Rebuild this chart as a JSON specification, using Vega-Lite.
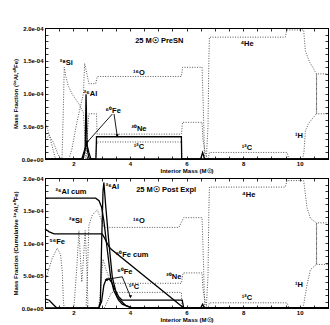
{
"$schema":"https://vega.github.io/schema/vega-lite/v6.json",
"background":"white",
"padding":{"left":11,"top":24,"right":2,"bottom":0},
"spacing":0,
"config":{
 "view":{"stroke":"black","strokeWidth":1},
 "axis":{"grid":false,"domainColor":"black","tickColor":"black","labelColor":"black","titleColor":"black","labelFont":"Liberation Sans","titleFont":"Liberation Sans","labelFontSize":6,"titleFontSize":6,"labelFontWeight":"bold","titleFontWeight":"bold","tickWidth":0.8,"domainWidth":1},
 "text":{"font":"Liberation Sans","fontWeight":"bold","fontSize":7.5,"color":"black"}
},
"datasets":{
"lines":[
{"p":"a","s":"Fe56","x":1.0,"y":0.30e-4},{"p":"a","s":"Fe56","x":1.15,"y":0.36e-4},{"p":"a","s":"Fe56","x":1.3,"y":0.25e-4},{"p":"a","s":"Fe56","x":1.45,"y":0.08e-4},{"p":"a","s":"Fe56","x":1.55,"y":0},
{"p":"a","s":"Si28","x":1.0,"y":0.55e-4},{"p":"a","s":"Si28","x":1.12,"y":0.42e-4},{"p":"a","s":"Si28","x":1.25,"y":0.2e-4},{"p":"a","s":"Si28","x":1.36,"y":0.02e-4},{"p":"a","s":"Si28","x":1.4,"y":0},{"p":"a","s":"Si28","x":1.6,"y":0},{"p":"a","s":"Si28","x":1.64,"y":0.6e-4},{"p":"a","s":"Si28","x":1.68,"y":1.40e-4},{"p":"a","s":"Si28","x":1.74,"y":1.25e-4},{"p":"a","s":"Si28","x":1.82,"y":1.12e-4},{"p":"a","s":"Si28","x":1.96,"y":0.99e-4},{"p":"a","s":"Si28","x":2.2,"y":0.84e-4},{"p":"a","s":"Si28","x":2.36,"y":0.7e-4},{"p":"a","s":"Si28","x":2.41,"y":0.3e-4},{"p":"a","s":"Si28","x":2.45,"y":0},
{"p":"a","s":"O16","x":1.85,"y":0},{"p":"a","s":"O16","x":1.95,"y":0.15e-4},{"p":"a","s":"O16","x":2.1,"y":0.5e-4},{"p":"a","s":"O16","x":2.25,"y":0.8e-4},{"p":"a","s":"O16","x":2.36,"y":1.0e-4},{"p":"a","s":"O16","x":2.4,"y":1.46e-4},{"p":"a","s":"O16","x":2.48,"y":1.3e-4},{"p":"a","s":"O16","x":2.55,"y":1.15e-4},{"p":"a","s":"O16","x":2.79,"y":1.15e-4},{"p":"a","s":"O16","x":2.85,"y":1.26e-4},{"p":"a","s":"O16","x":5.82,"y":1.26e-4},{"p":"a","s":"O16","x":5.86,"y":1.40e-4},{"p":"a","s":"O16","x":6.55,"y":1.40e-4},{"p":"a","s":"O16","x":6.6,"y":0.7e-4},{"p":"a","s":"O16","x":6.64,"y":0},
{"p":"a","s":"Ne20","x":2.45,"y":0},{"p":"a","s":"Ne20","x":2.5,"y":0.4e-4},{"p":"a","s":"Ne20","x":2.55,"y":0.69e-4},{"p":"a","s":"Ne20","x":2.82,"y":0.69e-4},{"p":"a","s":"Ne20","x":2.84,"y":0.38e-4},{"p":"a","s":"Ne20","x":5.82,"y":0.38e-4},{"p":"a","s":"Ne20","x":5.86,"y":0.56e-4},{"p":"a","s":"Ne20","x":6.55,"y":0.56e-4},{"p":"a","s":"Ne20","x":6.58,"y":0.3e-4},{"p":"a","s":"Ne20","x":6.66,"y":0.1e-4},{"p":"a","s":"Ne20","x":6.72,"y":0},
{"p":"a","s":"C12","x":2.78,"y":0},{"p":"a","s":"C12","x":2.84,"y":0.26e-4},{"p":"a","s":"C12","x":5.82,"y":0.26e-4},{"p":"a","s":"C12","x":5.84,"y":0},{"p":"a","s":"C12","x":6.76,"y":0},{"p":"a","s":"C12","x":6.81,"y":0.10e-4},{"p":"a","s":"C12","x":9.55,"y":0.10e-4},{"p":"a","s":"C12","x":9.62,"y":0},
{"p":"a","s":"He4","x":6.7,"y":0},{"p":"a","s":"He4","x":6.76,"y":0.5e-4},{"p":"a","s":"He4","x":6.79,"y":1.5e-4},{"p":"a","s":"He4","x":6.81,"y":1.86e-4},{"p":"a","s":"He4","x":9.49,"y":1.86e-4},{"p":"a","s":"He4","x":9.55,"y":1.97e-4},{"p":"a","s":"He4","x":10.14,"y":1.97e-4},{"p":"a","s":"He4","x":10.2,"y":1.65e-4},{"p":"a","s":"He4","x":10.35,"y":1.48e-4},{"p":"a","s":"He4","x":10.5,"y":1.37e-4},{"p":"a","s":"He4","x":10.59,"y":1.3e-4},{"p":"a","s":"He4","x":10.6,"y":0.69e-4},{"p":"a","s":"He4","x":11,"y":0.69e-4},
{"p":"a","s":"H1","x":10.1,"y":0},{"p":"a","s":"H1","x":10.15,"y":0.1e-4},{"p":"a","s":"H1","x":10.2,"y":0.43e-4},{"p":"a","s":"H1","x":10.3,"y":0.53e-4},{"p":"a","s":"H1","x":10.38,"y":0.58e-4},{"p":"a","s":"H1","x":10.59,"y":0.69e-4},{"p":"a","s":"H1","x":10.6,"y":1.3e-4},{"p":"a","s":"H1","x":11,"y":1.3e-4},
{"p":"a","s":"Al26","x":1,"y":0},{"p":"a","s":"Al26","x":2.35,"y":0},{"p":"a","s":"Al26","x":2.42,"y":0.15e-4},{"p":"a","s":"Al26","x":2.45,"y":0.99e-4},{"p":"a","s":"Al26","x":2.49,"y":0.15e-4},{"p":"a","s":"Al26","x":2.56,"y":0},{"p":"a","s":"Al26","x":6.5,"y":0},{"p":"a","s":"Al26","x":6.57,"y":0.1e-4},{"p":"a","s":"Al26","x":6.64,"y":0},{"p":"a","s":"Al26","x":11,"y":0},
{"p":"a","s":"Fe60","x":1,"y":0},{"p":"a","s":"Fe60","x":2.3,"y":0},{"p":"a","s":"Fe60","x":2.4,"y":0.14e-4},{"p":"a","s":"Fe60","x":2.47,"y":0.24e-4},{"p":"a","s":"Fe60","x":2.55,"y":0.1e-4},{"p":"a","s":"Fe60","x":2.62,"y":0},{"p":"a","s":"Fe60","x":2.8,"y":0},{"p":"a","s":"Fe60","x":2.82,"y":0.34e-4},{"p":"a","s":"Fe60","x":5.82,"y":0.34e-4},{"p":"a","s":"Fe60","x":5.83,"y":0},{"p":"a","s":"Fe60","x":11,"y":0},

{"p":"b","s":"Fe56","x":1.0,"y":0.42e-4},{"p":"b","s":"Fe56","x":1.1,"y":0.55e-4},{"p":"b","s":"Fe56","x":1.26,"y":0.77e-4},{"p":"b","s":"Fe56","x":1.43,"y":0.92e-4},{"p":"b","s":"Fe56","x":1.55,"y":0.82e-4},{"p":"b","s":"Fe56","x":1.61,"y":0.56e-4},{"p":"b","s":"Fe56","x":1.65,"y":0.1e-4},{"p":"b","s":"Fe56","x":1.68,"y":0},
{"p":"b","s":"Si28","x":2.02,"y":0},{"p":"b","s":"Si28","x":2.12,"y":0.6e-4},{"p":"b","s":"Si28","x":2.2,"y":1.19e-4},{"p":"b","s":"Si28","x":2.26,"y":0.7e-4},{"p":"b","s":"Si28","x":2.3,"y":0.4e-4},{"p":"b","s":"Si28","x":2.35,"y":0.7e-4},{"p":"b","s":"Si28","x":2.42,"y":1.19e-4},{"p":"b","s":"Si28","x":2.48,"y":0.6e-4},{"p":"b","s":"Si28","x":2.52,"y":0},
{"p":"b","s":"O16","x":2.45,"y":0},{"p":"b","s":"O16","x":2.5,"y":0.5e-4},{"p":"b","s":"O16","x":2.55,"y":1.27e-4},{"p":"b","s":"O16","x":2.67,"y":1.43e-4},{"p":"b","s":"O16","x":2.85,"y":1.51e-4},{"p":"b","s":"O16","x":2.96,"y":1.39e-4},{"p":"b","s":"O16","x":3.08,"y":1.24e-4},{"p":"b","s":"O16","x":5.73,"y":1.24e-4},{"p":"b","s":"O16","x":5.9,"y":1.39e-4},{"p":"b","s":"O16","x":6.55,"y":1.39e-4},{"p":"b","s":"O16","x":6.6,"y":0.7e-4},{"p":"b","s":"O16","x":6.64,"y":0},
{"p":"b","s":"Ne20","x":2.9,"y":0},{"p":"b","s":"Ne20","x":2.98,"y":0.4e-4},{"p":"b","s":"Ne20","x":3.05,"y":0.75e-4},{"p":"b","s":"Ne20","x":3.15,"y":0.6e-4},{"p":"b","s":"Ne20","x":3.3,"y":0.42e-4},{"p":"b","s":"Ne20","x":3.4,"y":0.38e-4},{"p":"b","s":"Ne20","x":5.82,"y":0.38e-4},{"p":"b","s":"Ne20","x":5.88,"y":0.54e-4},{"p":"b","s":"Ne20","x":6.55,"y":0.54e-4},{"p":"b","s":"Ne20","x":6.58,"y":0.3e-4},{"p":"b","s":"Ne20","x":6.66,"y":0.1e-4},{"p":"b","s":"Ne20","x":6.72,"y":0},
{"p":"b","s":"C12","x":3.1,"y":0},{"p":"b","s":"C12","x":3.2,"y":0.1e-4},{"p":"b","s":"C12","x":3.35,"y":0.24e-4},{"p":"b","s":"C12","x":5.82,"y":0.24e-4},{"p":"b","s":"C12","x":5.84,"y":0},{"p":"b","s":"C12","x":6.76,"y":0},{"p":"b","s":"C12","x":6.81,"y":0.08e-4},{"p":"b","s":"C12","x":9.55,"y":0.08e-4},{"p":"b","s":"C12","x":9.62,"y":0},
{"p":"b","s":"He4","x":6.7,"y":0},{"p":"b","s":"He4","x":6.76,"y":0.5e-4},{"p":"b","s":"He4","x":6.79,"y":1.5e-4},{"p":"b","s":"He4","x":6.81,"y":1.86e-4},{"p":"b","s":"He4","x":9.49,"y":1.86e-4},{"p":"b","s":"He4","x":9.55,"y":1.96e-4},{"p":"b","s":"He4","x":10.14,"y":1.96e-4},{"p":"b","s":"He4","x":10.26,"y":1.54e-4},{"p":"b","s":"He4","x":10.38,"y":1.38e-4},{"p":"b","s":"He4","x":10.59,"y":1.31e-4},{"p":"b","s":"He4","x":10.6,"y":0.67e-4},{"p":"b","s":"He4","x":11,"y":0.67e-4},
{"p":"b","s":"H1","x":10.1,"y":0},{"p":"b","s":"H1","x":10.14,"y":0.05e-4},{"p":"b","s":"H1","x":10.26,"y":0.36e-4},{"p":"b","s":"H1","x":10.38,"y":0.59e-4},{"p":"b","s":"H1","x":10.59,"y":0.67e-4},{"p":"b","s":"H1","x":10.6,"y":1.31e-4},{"p":"b","s":"H1","x":11,"y":1.31e-4},
{"p":"b","s":"Al26","x":1,"y":0.14e-4},{"p":"b","s":"Al26","x":1.15,"y":0.12e-4},{"p":"b","s":"Al26","x":1.3,"y":0.05e-4},{"p":"b","s":"Al26","x":1.42,"y":0},{"p":"b","s":"Al26","x":2.9,"y":0},{"p":"b","s":"Al26","x":2.96,"y":0.1e-4},{"p":"b","s":"Al26","x":3.0,"y":0.99e-4},{"p":"b","s":"Al26","x":3.05,"y":1.8e-4},{"p":"b","s":"Al26","x":3.08,"y":1.93e-4},{"p":"b","s":"Al26","x":3.14,"y":1.6e-4},{"p":"b","s":"Al26","x":3.26,"y":0.99e-4},{"p":"b","s":"Al26","x":3.38,"y":0.47e-4},{"p":"b","s":"Al26","x":3.55,"y":0.17e-4},{"p":"b","s":"Al26","x":3.85,"y":0.04e-4},{"p":"b","s":"Al26","x":4.1,"y":0},{"p":"b","s":"Al26","x":6.5,"y":0},{"p":"b","s":"Al26","x":6.57,"y":0.06e-4},{"p":"b","s":"Al26","x":6.64,"y":0},{"p":"b","s":"Al26","x":11,"y":0},
{"p":"b","s":"Al26cum","x":1,"y":1.69e-4},{"p":"b","s":"Al26cum","x":2.79,"y":1.69e-4},{"p":"b","s":"Al26cum","x":2.91,"y":1.65e-4},{"p":"b","s":"Al26cum","x":3.0,"y":1.55e-4},{"p":"b","s":"Al26cum","x":3.08,"y":1.34e-4},{"p":"b","s":"Al26cum","x":3.2,"y":0.9e-4},{"p":"b","s":"Al26cum","x":3.32,"y":0.47e-4},{"p":"b","s":"Al26cum","x":3.43,"y":0.27e-4},{"p":"b","s":"Al26cum","x":3.6,"y":0.12e-4},{"p":"b","s":"Al26cum","x":3.73,"y":0.06e-4},{"p":"b","s":"Al26cum","x":4.0,"y":0.01e-4},{"p":"b","s":"Al26cum","x":6.6,"y":0},{"p":"b","s":"Al26cum","x":11,"y":0},
{"p":"b","s":"Fe60cum","x":1,"y":1.22e-4},{"p":"b","s":"Fe60cum","x":1.15,"y":1.17e-4},{"p":"b","s":"Fe60cum","x":1.32,"y":1.14e-4},{"p":"b","s":"Fe60cum","x":3.02,"y":1.14e-4},{"p":"b","s":"Fe60cum","x":3.1,"y":1.08e-4},{"p":"b","s":"Fe60cum","x":3.2,"y":0.99e-4},{"p":"b","s":"Fe60cum","x":3.32,"y":0.91e-4},{"p":"b","s":"Fe60cum","x":5.85,"y":0.02e-4},{"p":"b","s":"Fe60cum","x":5.9,"y":0},{"p":"b","s":"Fe60cum","x":11,"y":0},
{"p":"b","s":"Fe60","x":1,"y":0},{"p":"b","s":"Fe60","x":2.9,"y":0},{"p":"b","s":"Fe60","x":3.0,"y":0.1e-4},{"p":"b","s":"Fe60","x":3.08,"y":0.35e-4},{"p":"b","s":"Fe60","x":3.14,"y":0.42e-4},{"p":"b","s":"Fe60","x":3.26,"y":0.45e-4},{"p":"b","s":"Fe60","x":3.35,"y":0.4e-4},{"p":"b","s":"Fe60","x":3.43,"y":0.32e-4},{"p":"b","s":"Fe60","x":3.61,"y":0.17e-4},{"p":"b","s":"Fe60","x":3.73,"y":0.12e-4},{"p":"b","s":"Fe60","x":5.85,"y":0.12e-4},{"p":"b","s":"Fe60","x":5.9,"y":0},{"p":"b","s":"Fe60","x":11,"y":0}
],
"labels":[
{"p":"a","t":"25 M☉  PreSN","x":5.04,"y":1.806e-4},
{"p":"a","t":"²⁸Si","x":1.75,"y":1.46e-4},
{"p":"a","t":"¹⁶O","x":4.32,"y":1.32e-4},
{"p":"a","t":"²⁶Al","x":2.61,"y":1.0e-4},
{"p":"a","t":"⁶⁰Fe","x":3.41,"y":0.73e-4},
{"p":"a","t":"²⁰Ne","x":4.32,"y":0.46e-4},
{"p":"a","t":"¹²C","x":4.32,"y":0.19e-4},
{"p":"a","t":"⁴He","x":8.14,"y":1.756e-4},
{"p":"a","t":"¹H","x":9.97,"y":0.356e-4},
{"p":"a","t":"¹²C","x":8.14,"y":0.168e-4},
{"p":"b","t":"²⁶Al cum","x":1.92,"y":1.78e-4},
{"p":"b","t":"²⁶Al","x":3.38,"y":1.86e-4},
{"p":"b","t":"25 M☉  Post Expl","x":5.28,"y":1.82e-4},
{"p":"b","t":"¹⁶O","x":4.32,"y":1.34e-4},
{"p":"b","t":"²⁸Si","x":2.08,"y":1.34e-4},
{"p":"b","t":"⁵⁶Fe","x":1.43,"y":1.01e-4},
{"p":"b","t":"⁶⁰Fe cum","x":4.08,"y":0.82e-4},
{"p":"b","t":"⁶⁰Fe","x":3.82,"y":0.56e-4},
{"p":"b","t":"²⁰Ne","x":5.55,"y":0.47e-4},
{"p":"b","t":"¹²C","x":4.14,"y":0.32e-4},
{"p":"b","t":"⁴He","x":8.2,"y":1.74e-4},
{"p":"b","t":"¹H","x":9.97,"y":0.35e-4},
{"p":"b","t":"¹²C","x":8.14,"y":0.15e-4}
],
"arrows":[
{"p":"a","x":3.38,"y":0.687e-4,"x2":2.49,"y2":0.255e-4,"h":"down"},
{"p":"a","x":3.44,"y":0.687e-4,"x2":3.55,"y2":0.356e-4,"h":"down"},
{"p":"b","x":3.73,"y":0.48e-4,"x2":3.16,"y2":0.44e-4,"h":"left"},
{"p":"b","x":3.73,"y":0.48e-4,"x2":4.02,"y2":0.175e-4,"h":"down"}
]
},
"vconcat":[
{
 "width":283,"height":131,
 "layer":[
  {"data":{"name":"lines"},"transform":[{"filter":"datum.p=='a' && indexof(['Al26','Fe60','Al26cum','Fe60cum'],datum.s)<0"}],
   "mark":{"type":"line","strokeDash":[1,1.5],"strokeWidth":0.9,"color":"#444"},
   "encoding":{
    "x":{"field":"x","type":"quantitative","scale":{"domain":[1,11],"nice":false,"zero":false},
     "axis":{"orient":"bottom","title":"Interior Mass (M☉)","values":[1,1.5,2,2.5,3,3.5,4,4.5,5,5.5,6,6.5,7,7.5,8,8.5,9,9.5,10,10.5,11],"labelExpr":"datum.value % 2 == 0 ? format(datum.value,'d') : ''","labelOverlap":false,"tickSize":-3,"labelPadding":4,"titlePadding":1}},
    "y":{"field":"y","type":"quantitative","scale":{"domain":[0,0.0002],"nice":false},
     "axis":{"orient":"left","title":"Mass Fraction (²⁶Al,⁶⁰Fe)","values":[0,1e-5,2e-5,3e-5,4e-5,5e-5,6e-5,7e-5,8e-5,9e-5,1e-4,1.1e-4,1.2e-4,1.3e-4,1.4e-4,1.5e-4,1.6e-4,1.7e-4,1.8e-4,1.9e-4,2e-4],"labelExpr":"datum.value==0?'0.0e+00':datum.value==5e-5?'5.0e-05':datum.value==1e-4?'1.0e-04':datum.value==1.5e-4?'1.5e-04':datum.value==2e-4?'2.0e-04':''","labelOverlap":false,"tickSize":-3,"labelPadding":5,"titlePadding":3}},
    "detail":{"field":"s"}}},
  {"data":{"name":"lines"},"transform":[{"filter":"datum.p=='a' && indexof(['Al26','Fe60','Al26cum','Fe60cum'],datum.s)>=0"}],
   "mark":{"type":"line","strokeWidth":1.3,"color":"black"},
   "encoding":{"x":{"field":"x","type":"quantitative","axis":null},"y":{"field":"y","type":"quantitative","axis":null},"detail":{"field":"s"}}},
  {"data":{"name":"arrows"},"transform":[{"filter":"datum.p=='a'"}],
   "mark":{"type":"rule","strokeWidth":0.9,"color":"black"},
   "encoding":{"x":{"field":"x","type":"quantitative","axis":null},"y":{"field":"y","type":"quantitative","axis":null},"x2":{"field":"x2"},"y2":{"field":"y2"}}},
  {"data":{"name":"arrows"},"transform":[{"filter":"datum.p=='a'"}],
   "mark":{"type":"point","filled":true,"size":12,"color":"black","opacity":1},
   "encoding":{"x":{"field":"x2","type":"quantitative","axis":null},"y":{"field":"y2","type":"quantitative","axis":null},"shape":{"field":"h","type":"nominal","scale":{"domain":["down","left"],"range":["triangle-down","triangle-left"]},"legend":null}}},
  {"data":{"name":"labels"},"transform":[{"filter":"datum.p=='a'"}],
   "mark":{"type":"text","align":"center","baseline":"middle"},
   "encoding":{"x":{"field":"x","type":"quantitative","axis":null},"y":{"field":"y","type":"quantitative","axis":null},"text":{"field":"t"}}},
  {"data":{"name":"labels"},"transform":[{"filter":"datum.p=='a'"}],
   "mark":{"type":"point","opacity":0},
   "encoding":{
    "x":{"field":"x","type":"quantitative","axis":{"orient":"top","title":null,"labels":false,"values":[1,1.5,2,2.5,3,3.5,4,4.5,5,5.5,6,6.5,7,7.5,8,8.5,9,9.5,10,10.5,11],"tickSize":-3}},
    "y":{"field":"y","type":"quantitative","axis":{"orient":"right","title":null,"labels":false,"values":[0,1e-5,2e-5,3e-5,4e-5,5e-5,6e-5,7e-5,8e-5,9e-5,1e-4,1.1e-4,1.2e-4,1.3e-4,1.4e-4,1.5e-4,1.6e-4,1.7e-4,1.8e-4,1.9e-4,2e-4],"tickSize":-3}}}}
 ],
 "resolve":{"axis":{"x":"independent","y":"independent"}}
},
{
 "width":283,"height":130,
 "layer":[
  {"data":{"name":"lines"},"transform":[{"filter":"datum.p=='b' && indexof(['Al26','Fe60','Al26cum','Fe60cum'],datum.s)<0"}],
   "mark":{"type":"line","strokeDash":[1,1.5],"strokeWidth":0.9,"color":"#444"},
   "encoding":{
    "x":{"field":"x","type":"quantitative","scale":{"domain":[1,11],"nice":false,"zero":false},
     "axis":{"orient":"bottom","title":"Interior Mass (M☉)","values":[1,1.5,2,2.5,3,3.5,4,4.5,5,5.5,6,6.5,7,7.5,8,8.5,9,9.5,10,10.5,11],"labelExpr":"datum.value % 2 == 0 ? format(datum.value,'d') : ''","labelOverlap":false,"tickSize":-3,"labelPadding":4,"titlePadding":1}},
    "y":{"field":"y","type":"quantitative","scale":{"domain":[0,0.0002],"nice":false},
     "axis":{"orient":"left","title":"Mass Fraction (Cumulative ²⁶Al,⁶⁰Fe)","values":[0,1e-5,2e-5,3e-5,4e-5,5e-5,6e-5,7e-5,8e-5,9e-5,1e-4,1.1e-4,1.2e-4,1.3e-4,1.4e-4,1.5e-4,1.6e-4,1.7e-4,1.8e-4,1.9e-4,2e-4],"labelExpr":"datum.value==0?'0.0e+00':datum.value==5e-5?'5.0e-05':datum.value==1e-4?'1.0e-04':datum.value==1.5e-4?'1.5e-04':datum.value==2e-4?'2.0e-04':''","labelOverlap":false,"tickSize":-3,"labelPadding":5,"titlePadding":3}},
    "detail":{"field":"s"}}},
  {"data":{"name":"lines"},"transform":[{"filter":"datum.p=='b' && indexof(['Al26','Fe60','Al26cum','Fe60cum'],datum.s)>=0"}],
   "mark":{"type":"line","strokeWidth":1.3,"color":"black"},
   "encoding":{"x":{"field":"x","type":"quantitative","axis":null},"y":{"field":"y","type":"quantitative","axis":null},"detail":{"field":"s"}}},
  {"data":{"name":"arrows"},"transform":[{"filter":"datum.p=='b'"}],
   "mark":{"type":"rule","strokeWidth":0.9,"color":"black"},
   "encoding":{"x":{"field":"x","type":"quantitative","axis":null},"y":{"field":"y","type":"quantitative","axis":null},"x2":{"field":"x2"},"y2":{"field":"y2"}}},
  {"data":{"name":"arrows"},"transform":[{"filter":"datum.p=='b'"}],
   "mark":{"type":"point","filled":true,"size":12,"color":"black","opacity":1},
   "encoding":{"x":{"field":"x2","type":"quantitative","axis":null},"y":{"field":"y2","type":"quantitative","axis":null},"shape":{"field":"h","type":"nominal","scale":{"domain":["down","left"],"range":["triangle-down","triangle-left"]},"legend":null}}},
  {"data":{"name":"labels"},"transform":[{"filter":"datum.p=='b'"}],
   "mark":{"type":"text","align":"center","baseline":"middle"},
   "encoding":{"x":{"field":"x","type":"quantitative","axis":null},"y":{"field":"y","type":"quantitative","axis":null},"text":{"field":"t"}}},
  {"data":{"name":"labels"},"transform":[{"filter":"datum.p=='b'"}],
   "mark":{"type":"point","opacity":0},
   "encoding":{
    "x":{"field":"x","type":"quantitative","axis":{"orient":"top","title":null,"labels":false,"values":[1,1.5,2,2.5,3,3.5,4,4.5,5,5.5,6,6.5,7,7.5,8,8.5,9,9.5,10,10.5,11],"tickSize":-3}},
    "y":{"field":"y","type":"quantitative","axis":{"orient":"right","title":null,"labels":false,"values":[0,1e-5,2e-5,3e-5,4e-5,5e-5,6e-5,7e-5,8e-5,9e-5,1e-4,1.1e-4,1.2e-4,1.3e-4,1.4e-4,1.5e-4,1.6e-4,1.7e-4,1.8e-4,1.9e-4,2e-4],"tickSize":-3}}}}
 ],
 "resolve":{"axis":{"x":"independent","y":"independent"}}
}
]
}
